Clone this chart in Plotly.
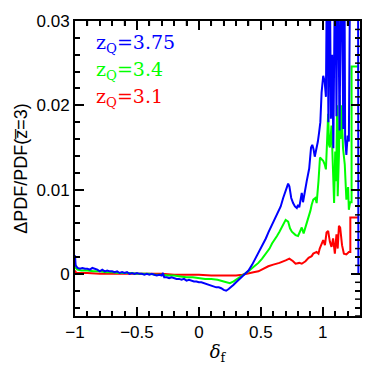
import plotly.graph_objects as go

# z_Q = 3.75 (blue)
x_blue = [-1.0, -0.995, -0.98, -0.96, -0.94, -0.92, -0.90, -0.88, -0.86, -0.84, -0.82,
          -0.80, -0.78, -0.76, -0.74, -0.72, -0.70, -0.68, -0.66, -0.64, -0.62, -0.60,
          -0.58, -0.56, -0.54, -0.52, -0.50, -0.48, -0.46, -0.44, -0.42, -0.40, -0.38,
          -0.36, -0.34, -0.32, -0.30, -0.29, -0.28, -0.26, -0.24, -0.22, -0.20, -0.18,
          -0.16, -0.14, -0.12, -0.10, -0.08, -0.06, -0.04, -0.02, 0.0, 0.02, 0.04, 0.06,
          0.08, 0.10, 0.12, 0.14, 0.16, 0.18, 0.20, 0.22, 0.24, 0.26, 0.28, 0.30, 0.32,
          0.34, 0.36, 0.38, 0.40, 0.43, 0.46, 0.48, 0.50, 0.52, 0.54, 0.56, 0.58, 0.60,
          0.62, 0.64, 0.66, 0.68, 0.70, 0.72, 0.73, 0.745, 0.76, 0.775, 0.79, 0.80, 0.81,
          0.82, 0.83, 0.84, 0.85, 0.87, 0.89, 0.905, 0.915, 0.925, 0.935, 0.945, 0.96,
          0.97, 0.98, 0.99, 1.003, 1.015, 1.025, 1.035, 1.045, 1.055, 1.065, 1.075, 1.085,
          1.10, 1.11, 1.12, 1.135, 1.15, 1.165, 1.175, 1.18, 1.19, 1.20, 1.21, 1.222,
          1.284, 1.287]
y_blue = [0.0022, 0.0010, 0.0007, 0.0006, 0.0007, 0.0006, 0.0006, 0.0005, 0.0007, 0.0006,
          0.0005, 0.0003, 0.0005, 0.0003, 0.0004, 0.0003, 0.0003, 0.0002, 0.0003, 0.0001,
          0.0002, 0.0001, 0.0002, 0.0000, 0.0001, 0.0000, 0.0001, 0.0000, 0.0000, -0.0001,
          0.0000, -0.0001, 0.0000, -0.0001, -0.0002, -0.0001, -0.0002, 0.0001, -0.0004,
          -0.0004, -0.0005, -0.0004, -0.0005, -0.0006, -0.0006, -0.0007, -0.0006, -0.0008,
          -0.0007, -0.0008, -0.0009, -0.0009, -0.0010, -0.0010, -0.0011, -0.0012, -0.0013,
          -0.0014, -0.0015, -0.0016, -0.0016, -0.0017, -0.0019, -0.0020, -0.0018, -0.0016,
          -0.0013, -0.0010, -0.0007, -0.0004, -0.0002, 0.0001, 0.0004, 0.0011, 0.0019,
          0.0026, 0.0031, 0.0036, 0.0042, 0.0049, 0.0055, 0.0062, 0.0066, 0.0072, 0.0080,
          0.0090, 0.0098, 0.0107, 0.0104, 0.0090, 0.0084, 0.0080, 0.0078, 0.0082, 0.0079,
          0.0088, 0.0096, 0.0085, 0.0095, 0.0110, 0.0125, 0.0150, 0.0153, 0.0148, 0.0139,
          0.0145, 0.0157, 0.0168, 0.0180, 0.0215, 0.0235, 0.0228, 0.0210, 0.0400, 0.0180,
          0.0400, 0.0184, 0.0260, 0.0149, 0.0400, 0.0187, 0.0400, 0.0170, 0.0400, 0.0172,
          0.0350, 0.0160, 0.0141, 0.0164, 0.0157, 0.0400, 0.0400, 0.0000]

# z_Q = 3.4 (green)
x_green = [-1.0, -0.995, -0.98, -0.95, -0.90, -0.85, -0.80, -0.75, -0.70, -0.65, -0.60,
           -0.55, -0.50, -0.45, -0.40, -0.35, -0.30, -0.25, -0.20, -0.15, -0.10, -0.05,
           0.0, 0.05, 0.10, 0.15, 0.20, 0.22, 0.25, 0.28, 0.30, 0.33, 0.36, 0.38, 0.40,
           0.43, 0.46, 0.48, 0.51, 0.54, 0.57, 0.59, 0.61, 0.63, 0.65, 0.67, 0.69, 0.70,
           0.72, 0.735, 0.75, 0.77, 0.78, 0.80, 0.815, 0.83, 0.845, 0.86, 0.88, 0.90,
           0.91, 0.923, 0.94, 0.95, 0.965, 0.977, 0.99, 1.003, 1.015, 1.025, 1.035, 1.043,
           1.05, 1.057, 1.07, 1.083, 1.091, 1.10, 1.108, 1.115, 1.12, 1.13, 1.137, 1.143,
           1.15, 1.163, 1.177, 1.19, 1.204, 1.21, 1.22, 1.232, 1.232, 1.29]
y_green = [0.0013, 0.0007, 0.0005, 0.0004, 0.0004, 0.0003, 0.0003, 0.0002, 0.0002, 0.0001,
           0.0001, 0.0001, 0.0000, 0.0000, 0.0000, -0.0001, -0.0001, -0.0002, -0.0002,
           -0.0003, -0.0004, -0.0004, -0.0005, -0.0006, -0.0006, -0.0007, -0.0009, -0.0010,
           -0.0011, -0.0009, -0.0007, -0.0005, -0.0002, 0.0000, 0.0003, 0.0007, 0.0010,
           0.0013, 0.0018, 0.0024, 0.0030, 0.0036, 0.0040, 0.0045, 0.0050, 0.0056, 0.0062,
           0.0064, 0.0062, 0.0054, 0.0050, 0.0047, 0.0046, 0.0045, 0.0050, 0.0055, 0.0048,
           0.0055, 0.0065, 0.0075, 0.0082, 0.0088, 0.0090, 0.0084, 0.0110, 0.0138, 0.0136,
           0.0134, 0.0130, 0.0124, 0.0160, 0.0190, 0.0153, 0.0150, 0.0176, 0.0122, 0.0084,
           0.0145, 0.0110, 0.0200, 0.0092, 0.0140, 0.0212, 0.0160, 0.0200, 0.0149, 0.0130,
           0.0088, 0.0103, 0.0076, 0.0085, 0.0085, 0.0246, 0.0246]

# z_Q = 3.1 (red)
x_red = [-1.0, -0.995, -0.99, -0.95, -0.90, -0.80, -0.70, -0.60, -0.50, -0.40, -0.30,
         -0.20, -0.10, 0.0, 0.10, 0.20, 0.25, 0.30, 0.35, 0.375, 0.40, 0.44, 0.48, 0.52,
         0.56, 0.60, 0.65, 0.70, 0.73, 0.76, 0.78, 0.81, 0.83, 0.86, 0.885, 0.91, 0.923,
         0.95, 0.965, 0.975, 0.99, 1.003, 1.017, 1.03, 1.043, 1.057, 1.07, 1.083, 1.097,
         1.11, 1.12, 1.13, 1.14, 1.155, 1.17, 1.19, 1.21, 1.222, 1.222, 1.29]
y_red = [0.0004, 0.0002, 0.0001, 0.0001, 0.0001, 0.0000, 0.0000, 0.0000, 0.0000, 0.0000,
         0.0000, -0.0001, -0.0001, -0.0001, -0.0002, -0.0002, -0.0002, -0.0002, -0.0001,
         0.0000, 0.0001, 0.0002, 0.0003, 0.0006, 0.0009, 0.0011, 0.0013, 0.0016, 0.0018,
         0.0015, 0.0012, 0.0013, 0.0012, 0.0015, 0.0019, 0.0021, 0.0024, 0.0026, 0.0024,
         0.0030, 0.0036, 0.0040, 0.0034, 0.0049, 0.0051, 0.0038, 0.0032, 0.0042, 0.0024,
         0.0047, 0.0030, 0.0057, 0.0055, 0.0034, 0.0024, 0.0023, 0.0026, 0.0026, 0.0067,
         0.0067]

legend_labels = ["z<sub>Q</sub>=3.75", "z<sub>Q</sub>=3.4", "z<sub>Q</sub>=3.1"]
legend_colors = ["#0000ff", "#00ff00", "#ff0000"]

x_range = [-1, 1.3]
y_range = [-0.005, 0.03]
x_minor = 0.1
y_minor = 0.002

fig = go.Figure()
for xs, ys, c in [(x_red, y_red, "#ff0000"), (x_green, y_green, "#00ff00"),
                  (x_blue, y_blue, "#0000ff")]:
    fig.add_trace(go.Scatter(x=xs, y=ys, mode="lines", line=dict(color=c, width=2),
                             showlegend=False))

for i, (lab, c) in enumerate(zip(legend_labels, legend_colors)):
    fig.add_annotation(text=lab, xref="paper", yref="paper", x=0.065, y=0.925 - i * 0.092,
                       xanchor="left", yanchor="middle", showarrow=False,
                       font=dict(size=19, color=c, family="DejaVu Serif"))

# minor ticks on the top and right frame (plotly only mirrors major ticks)
tick_frac_x = 5 / 304
tick_frac_y = 5 / 287
k = 0
while x_range[0] + k * x_minor < x_range[1] - 1e-9:
    xv = round(x_range[0] + k * x_minor, 6)
    if k % 5:
        fig.add_shape(type="line", xref="x", yref="paper", x0=xv, x1=xv, y0=1,
                      y1=1 - tick_frac_x, line=dict(color="black", width=1.5))
    k += 1
k = 0
while y_range[0] + k * y_minor < y_range[1] - 1e-9:
    yv = round(y_range[0] + k * y_minor, 6)
    if round(yv / 0.01, 6) != round(yv / 0.01):
        fig.add_shape(type="line", xref="paper", yref="y", x0=1, x1=1 - tick_frac_y,
                      y0=yv, y1=yv, line=dict(color="black", width=1.5))
    k += 1

fig.update_layout(
    width=374, height=374,
    margin=dict(l=75, r=12, t=12, b=58),
    plot_bgcolor="white", paper_bgcolor="white",
    font=dict(family="Liberation Sans, Arial", size=17, color="black"),
)
fig.update_xaxes(range=x_range, dtick=0.5, tick0=0, ticks="inside", ticklen=9,
                 tickwidth=1.5, tickcolor="black", showline=True, linewidth=2,
                 linecolor="black", mirror="ticks", showgrid=False, zeroline=False,
                 minor=dict(dtick=x_minor, ticks="inside", ticklen=5, tickwidth=1.5,
                            tickcolor="black", showgrid=False),
                 title=dict(text="<i>δ</i><sub>f</sub>", standoff=4,
                            font=dict(size=18, family="DejaVu Serif")))
fig.update_yaxes(range=y_range, dtick=0.01, tick0=0, ticks="inside", ticklen=9,
                 tickwidth=1.5, tickcolor="black", showline=True, linewidth=2,
                 linecolor="black", mirror="ticks", showgrid=False, zeroline=False,
                 minor=dict(dtick=y_minor, ticks="inside", ticklen=5, tickwidth=1.5,
                            tickcolor="black", showgrid=False),
                 title=dict(text="ΔPDF/PDF(z\u0305=3)", standoff=4, font=dict(size=18)))

fig.write_html("out.html", config={"displayModeBar": False},
               post_script="document.body.style.margin='0px';")
